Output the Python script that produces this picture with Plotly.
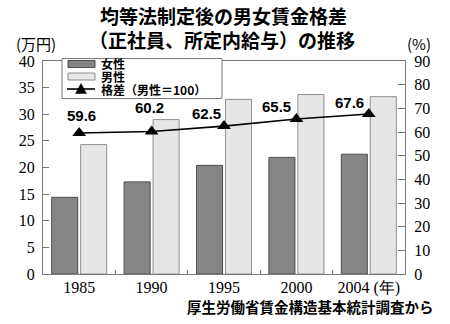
import plotly.graph_objects as go

# Survey years and monthly scheduled wages (10,000 yen), gap index (male = 100)
years = ["1985", "1990", "1995", "2000", "2004"]
year_labels = ["1985", "1990", "1995", "2000", "2004 (年)"]
female_wage = [14.4, 17.3, 20.4, 21.9, 22.5]
male_wage = [24.3, 29.0, 32.8, 33.7, 33.3]
gap_index = [59.6, 60.2, 62.5, 65.5, 67.6]

# pixel offsets of the value labels relative to each marker
label_dx = [2, -2, -18, -20, -19]
label_dy = [17, 24, 13, 12, 12]

W, H = 450, 324
L, R, T, B = 43, 405, 61, 274


def pxx(x):
    return (x - L) / (R - L)


def pxy(y):
    return (B - y) / (B - T)


FRAME = "#7a7a7a"
F_FILL, F_LINE = "#858585", "#4d4d4d"
M_FILL, M_LINE = "#e6e6e6", "#8f8f8f"
JP = "Noto Sans CJK JP"
SERIF = "Liberation Serif"
TICKFONT = dict(family=SERIF, size=16, color="black")

fig = go.Figure()
fig.add_trace(go.Bar(x=years, y=female_wage, name="女性",
                     marker=dict(color=F_FILL, line=dict(color=F_LINE, width=1))))
fig.add_trace(go.Bar(x=years, y=male_wage, name="男性",
                     marker=dict(color=M_FILL, line=dict(color=M_LINE, width=1))))
fig.add_trace(go.Scatter(x=years, y=gap_index, yaxis="y2", mode="lines+markers",
                         name="格差（男性＝100）",
                         line=dict(color="black", width=1.6),
                         marker=dict(symbol="triangle-up", size=12, color="black")))

annotations = []
for i, (v, dx, dy) in enumerate(zip(gap_index, label_dx, label_dy)):
    annotations.append(dict(x=i, y=v, xref="x", yref="y2", text=f"<b>{v:.1f}</b>",
                            showarrow=False, xshift=dx, yshift=dy,
                            font=dict(family="Liberation Sans", size=15, color="black")))

# title, axis units, source
annotations += [
    dict(x=pxx(223), y=pxy(15.5), xref="paper", yref="paper", text="<b>均等法制定後の男女賃金格差</b>",
         showarrow=False, xanchor="center", yanchor="middle",
         font=dict(family=JP, size=19, color="black")),
    dict(x=pxx(222), y=pxy(39), xref="paper", yref="paper", text="<b>（正社員、所定内給与）の推移</b>",
         showarrow=False, xanchor="center", yanchor="middle",
         font=dict(family=JP, size=19, color="black")),
    dict(x=pxx(36), y=pxy(43.5), xref="paper", yref="paper", text="(万円)",
         showarrow=False, xanchor="center", yanchor="middle",
         font=dict(family=JP, size=15, color="black")),
    dict(x=pxx(419), y=pxy(43.5), xref="paper", yref="paper", text="(%)",
         showarrow=False, xanchor="center", yanchor="middle",
         font=dict(family=JP, size=15, color="black")),
    dict(x=pxx(436), y=pxy(306), xref="paper", yref="paper", text="<b>厚生労働省賃金構造基本統計調査から</b>",
         showarrow=False, xanchor="right", yanchor="middle",
         font=dict(family=JP, size=14.5, color="black")),
]

# legend box drawn by hand
legend_rows = [("女性", 64), ("男性", 76.5), ("格差（男性＝100）", 89)]
for txt, cy in legend_rows:
    annotations.append(dict(x=pxx(99), y=pxy(cy), xref="paper", yref="paper", text=f"<b>{txt}</b>",
                            showarrow=False, xanchor="left", yanchor="middle",
                            font=dict(family=JP, size=12, color="black")))

shapes = [
    dict(type="rect", xref="paper", yref="paper", x0=pxx(62), x1=pxx(222), y0=pxy(98.5), y1=pxy(58.5),
         fillcolor="white", line=dict(color=FRAME, width=1), layer="above"),
    dict(type="rect", xref="paper", yref="paper", x0=pxx(68), x1=pxx(95), y0=pxy(67.5), y1=pxy(60.5),
         fillcolor=F_FILL, line=dict(color=F_LINE, width=1), layer="above"),
    dict(type="rect", xref="paper", yref="paper", x0=pxx(68), x1=pxx(95), y0=pxy(80), y1=pxy(73),
         fillcolor=M_FILL, line=dict(color=M_LINE, width=1), layer="above"),
    dict(type="line", xref="paper", yref="paper", x0=pxx(67), x1=pxx(95), y0=pxy(89), y1=pxy(89),
         line=dict(color="black", width=1.6), layer="above"),
    dict(type="path", xref="paper", yref="paper",
         path=f"M {pxx(75.5)},{pxy(93.5)} L {pxx(86.5)},{pxy(93.5)} L {pxx(81)},{pxy(83.5)} Z",
         fillcolor="black", line=dict(color="black", width=0.5), layer="above"),
]

fig.update_layout(
    width=W, height=H,
    margin=dict(l=L, r=W - R, t=T, b=H - B, pad=0, autoexpand=False),
    paper_bgcolor="white", plot_bgcolor="white",
    showlegend=False,
    barmode="group", bargap=0.2, bargroupgap=0.1,
    xaxis=dict(type="category", range=[-0.5, len(years) - 0.5],
               tickmode="array", tickvals=years, ticktext=year_labels, tickangle=0,
               automargin=False, ticklabelstandoff=-1,
               showline=True, linecolor=FRAME, linewidth=1, mirror=True,
               ticks="inside", ticklen=4, tickcolor=FRAME, tickson="boundaries",
               showgrid=False, tickfont=TICKFONT),
    yaxis=dict(range=[0, 40], dtick=5, showline=True, linecolor=FRAME, linewidth=1,
               ticks="inside", ticklen=6, tickcolor=FRAME, showgrid=False, zeroline=False,
               ticklabelstandoff=4, automargin=False, tickfont=TICKFONT),
    yaxis2=dict(range=[0, 90], dtick=10, overlaying="y", side="right", showline=True,
                linecolor=FRAME, linewidth=1, ticks="inside", ticklen=7, tickcolor=FRAME,
                showgrid=False, zeroline=False, ticklabelstandoff=5, automargin=False,
                tickfont=TICKFONT),
    annotations=annotations,
    shapes=shapes,
)

fig.write_html("out.html")
